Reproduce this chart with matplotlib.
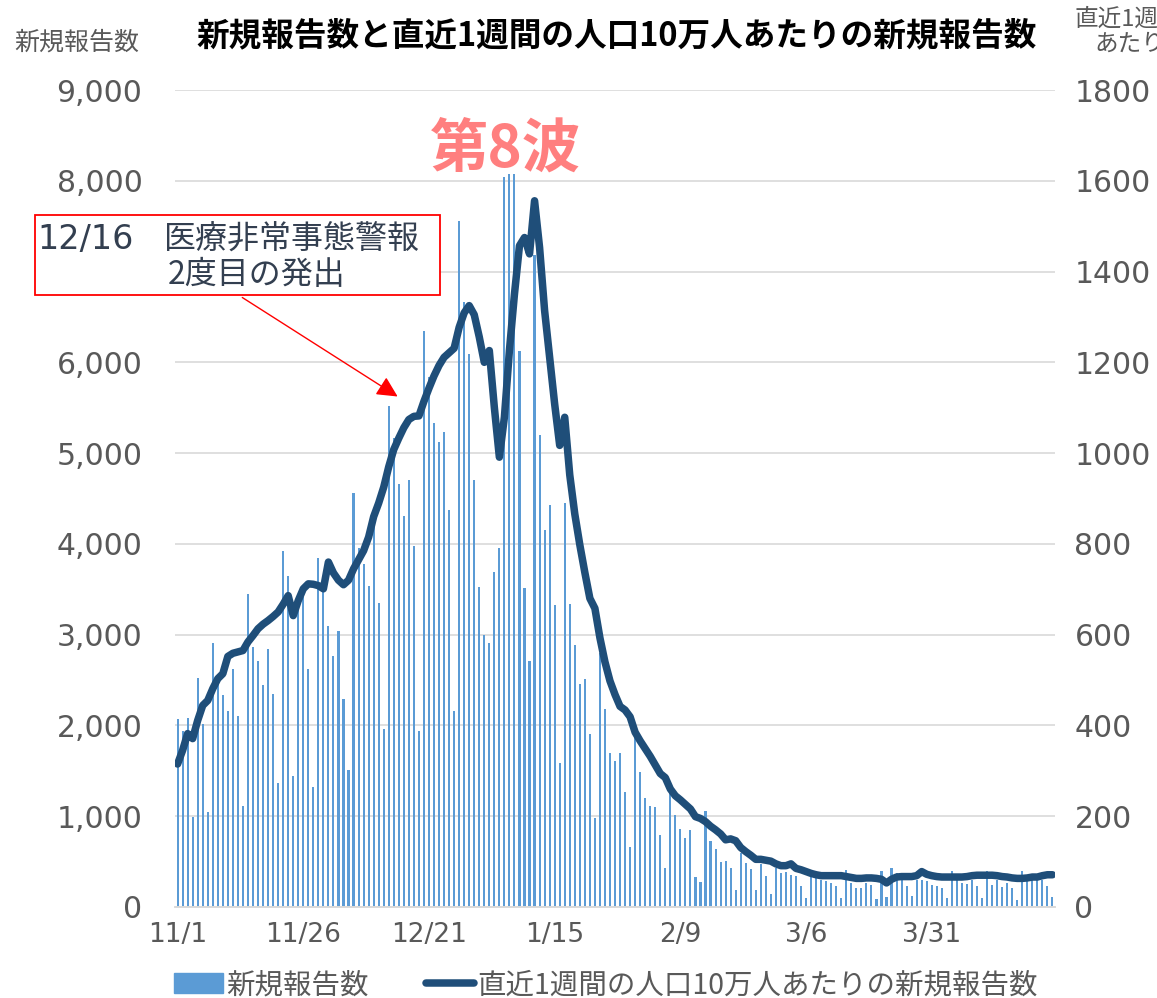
import matplotlib
matplotlib.use("Agg")
import matplotlib.pyplot as plt
import matplotlib.patches as mpatches
from matplotlib.lines import Line2D
from matplotlib.ticker import FuncFormatter

plt.rcParams["font.family"] = ["Noto Sans CJK JP", "DejaVu Sans"]

# ── データ (11/1 〜 4/24, 1日1本) ──
new_cases = [
    2070, 1940, 2080, 995, 2520, 2020, 1050, 2910, 2500, 2330,
    2160, 2620, 2100, 1115, 3450, 2860, 2710, 2450, 2840, 2350,
    1370, 3920, 3650, 1440, 3360, 3410, 2620, 1320, 3850, 3500,
    3100, 2770, 3040, 2290, 1510, 4560, 3960, 3780, 3540, 4400,
    3350, 1965, 5520, 5170, 4660, 4310, 4700, 3980, 1935, 6340,
    5840, 5330, 5120, 5230, 4370, 2160, 7560, 6660, 6090, 4700,
    3520, 3000, 2905, 3695, 3958, 8040, 8080, 8070, 6130, 3510,
    2710, 7180, 5195, 4150, 4430, 3326, 1590, 4455, 3335, 2890,
    2460, 2510, 1905, 985, 2800, 2185, 1700, 1605, 1697, 1262,
    660, 1870, 1487, 1200, 1110, 1102, 795, 428, 1261, 1008,
    864, 761, 845, 333, 277, 1061, 723, 636, 496, 504,
    428, 189, 598, 485, 420, 182, 473, 345, 144, 428,
    371, 380, 350, 336, 226, 99, 336, 318, 299, 281,
    263, 226, 99, 409, 263, 208, 208, 263, 245, 91,
    391, 109, 427, 372, 336, 226, 117, 299, 299, 281,
    245, 234, 208, 99, 391, 299, 263, 255, 299, 226,
    99, 391, 245, 299, 219, 263, 208, 80, 391, 299,
    299, 318, 299, 226, 109,
]

per_100k = [
    315, 345, 382, 371, 411, 444, 455, 481, 503, 514,
    552, 559, 562, 565, 584, 598, 613, 623, 631, 640,
    650, 667, 686, 642, 675, 701, 712, 711, 708, 701,
    760, 736, 720, 710, 720, 745, 765, 785, 815, 860,
    890, 925, 970, 1008, 1033, 1056, 1074, 1081, 1082, 1114,
    1143, 1170, 1193, 1211, 1221, 1231, 1277, 1309, 1325, 1305,
    1256, 1200, 1226, 1101, 991, 1079, 1226, 1350, 1457, 1475,
    1439, 1556, 1453, 1314, 1211, 1108, 1017, 1079, 952, 866,
    798, 737, 680, 658, 593, 540, 498, 468, 442, 434,
    419, 385, 366, 349, 332, 313, 294, 285, 260, 245,
    236, 226, 216, 199, 195, 188, 178, 170, 161, 148,
    150, 146, 131, 122, 114, 105, 105, 103, 101, 95,
    91, 91, 95, 85, 82, 78, 74, 71, 69, 69,
    69, 69, 69, 67, 65, 63, 63, 64, 64, 63,
    61, 53, 61, 66, 67, 67, 67, 69, 78, 72,
    69, 67, 66, 66, 66, 66, 66, 67, 69, 70,
    70, 70, 70, 69, 67, 66, 64, 63, 63, 64,
    66, 66, 69, 71, 71,
]

tick_pos = [0, 25, 50, 75, 100, 125, 150]
tick_labels = ["11/1", "11/26", "12/21", "1/15", "2/9", "3/6", "3/31"]

BAR_C = "#5B9BD5"
LINE_C = "#1F4E79"
TICK_C = "#595959"
GRID_C = "#D9D9D9"
NOTE_C = "#333F50"

fig = plt.figure(figsize=(11.57, 9.98), dpi=100)
fig.patch.set_facecolor("white")
ax = fig.add_axes([0.1513, 0.0912, 0.7605, 0.8186])
ax2 = ax.twinx()

days = list(range(len(new_cases)))
ax.bar(days, new_cases, width=0.42, color=BAR_C, zorder=2)
ax2.plot(days, per_100k, color=LINE_C, lw=5.4, solid_joinstyle="round",
         solid_capstyle="round", zorder=3)

ax.set_xlim(-0.5, len(days) - 0.5)
ax.set_ylim(0, 9000)
ax2.set_ylim(0, 1800)
ax.set_yticks(range(0, 9001, 1000))
ax2.set_yticks(range(0, 1801, 200))
ax.yaxis.set_major_formatter(FuncFormatter(lambda v, p: f"{int(v):,}"))
ax.set_xticks(tick_pos)
ax.set_xticklabels(tick_labels)

ax.grid(axis="y", color=GRID_C, lw=1.2, zorder=0)
ax.set_axisbelow(True)
for a in (ax, ax2):
    for s in ("top", "left", "right"):
        a.spines[s].set_visible(False)
    a.spines["bottom"].set_color(GRID_C)
    a.spines["bottom"].set_linewidth(1.2)
ax.tick_params(axis="y", length=0, pad=23.5, labelsize=21.5, labelcolor=TICK_C)
ax2.tick_params(axis="y", length=0, pad=14, labelsize=21.5, labelcolor=TICK_C)
ax.tick_params(axis="x", length=0, pad=11, labelsize=19, labelcolor=TICK_C)
for lab in ax.get_yticklabels() + ax2.get_yticklabels() + ax.get_xticklabels():
    lab.set_family("DejaVu Sans")

# ── タイトル・軸ラベル ──
fig.text(0.533, 0.964, "新規報告数と直近1週間の人口10万人あたりの新規報告数",
         ha="center", va="center", fontsize=23.5, fontweight="bold", color="black")
fig.text(0.066, 0.957, "新規報告数", ha="center", va="center",
         fontsize=18, color=TICK_C)
fig.text(0.929, 0.968, "直近1週間の人口10万人\nあたりの新規報告数", ha="left",
         va="center", multialignment="center", fontsize=17, color=TICK_C,
         linespacing=1.15)

# ── 第8波 ──
fig.text(0.437, 0.850, "第8波", ha="center", va="center", fontsize=42,
         fontweight="bold", color="#FF7F7F")

# ── 注記ボックス ──
box = mpatches.Rectangle((0.0302, 0.7044), 0.3501, 0.0802, transform=fig.transFigure,
                         fc="white", ec="#FF0000", lw=1.3, zorder=5)
fig.patches.append(box)
fig.text(0.032, 0.760, "12/16", ha="left", va="center", fontsize=24,
         family="DejaVu Sans", color=NOTE_C, zorder=6)
fig.text(0.142, 0.760, "医療非常事態警報", ha="left", va="center", fontsize=23,
         color=NOTE_C, zorder=6)
fig.text(0.145, 0.724, "2度目の発出", ha="left", va="center", fontsize=23,
         color=NOTE_C, zorder=6)
fig.patches.append(mpatches.FancyArrowPatch(
    (0.2074, 0.7034), (0.3457, 0.6012), transform=fig.transFigure,
    arrowstyle="-|>,head_length=0.9,head_width=0.45", color="#FF0000", lw=1.0,
    mutation_scale=14))

# ── 凡例 ──
handles = [
    mpatches.Patch(color=BAR_C, label="新規報告数"),
    Line2D([0], [0], color=LINE_C, lw=5.4, solid_capstyle="round",
           label="直近1週間の人口10万人あたりの新規報告数"),
]
fig.legend(handles=handles, loc="center", bbox_to_anchor=(0.524, 0.013), ncol=2,
           frameon=False, fontsize=20.5, handlelength=1.7, handletextpad=0.12,
           columnspacing=2.0, labelcolor=TICK_C)

fig.savefig("out.png", dpi=100, facecolor="white")
